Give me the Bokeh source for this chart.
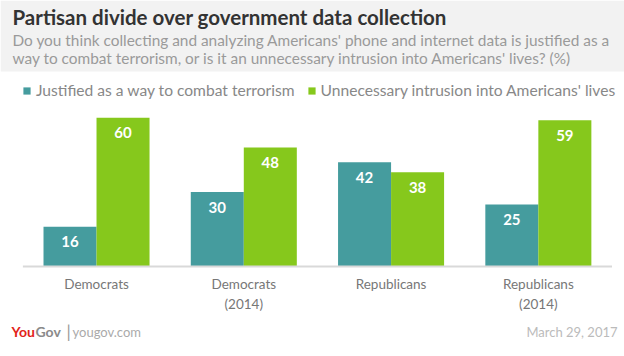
from bokeh.plotting import figure
from bokeh.models import ColumnDataSource, Range1d, Label, BoxAnnotation, Legend, LegendItem
from bokeh.transform import dodge
from bokeh.core.properties import value
from bokeh.embed import file_html
from bokeh.resources import INLINE

categories = ["Democrats", "Democrats (2014)", "Republicans", "Republicans (2014)"]
tick_labels = ["Democrats", "Democrats\n(2014)", "Republicans", "Republicans\n(2014)"]
justified = [16, 30, 42, 25]
unnecessary = [60, 48, 38, 59]
series_names = ["Justified as a way to combat terrorism", "Unnecessary intrusion into Americans' lives"]

TEAL = "#459c9e"
GREEN = "#86c81c"
FONT = "Lato"

W, H = 624, 356
n = len(categories)
src = ColumnDataSource(dict(
    x=list(range(n)), cat=categories, tick=tick_labels,
    j=justified, u=unnecessary,
    jl=[str(v) for v in justified], ul=[str(v) for v in unnecessary],
    zero=[0] * n,
))

p = figure(width=W, height=H, output_backend="svg", toolbar_location=None,
           x_range=Range1d(-0.652, 3.585), y_range=Range1d(-36.29, 107.26),
           x_axis_location=None, y_axis_location=None, min_border=0)
p.outline_line_color = None
p.xgrid.visible = False
p.ygrid.visible = False
p.background_fill_color = "white"
p.border_fill_color = "white"

# header band
p.add_layout(BoxAnnotation(left=0, right=W, bottom=H - 71, top=H,
                           left_units="screen", right_units="screen",
                           bottom_units="screen", top_units="screen",
                           fill_color="#f2f2f2", fill_alpha=1, line_color=None, level="underlay"))

bw = 0.36
r1 = p.vbar(x=dodge("x", -bw / 2, range=p.x_range), top="j", width=bw, source=src,
            fill_color=TEAL, line_color=None)
r2 = p.vbar(x=dodge("x", bw / 2, range=p.x_range), top="u", width=bw, source=src,
            fill_color=GREEN, line_color=None)

# baseline
p.segment(x0=-0.5, x1=n - 0.5, y0=0, y1=0, line_color="#d9d9d9", line_width=2)

# value labels
for col, lab, off in (("j", "jl", -bw / 2), ("u", "ul", bw / 2)):
    p.text(x=dodge("x", off, range=p.x_range), y=col, text=lab, source=src,
           text_align="center", text_baseline="middle", y_offset=15,
           text_color="white", text_font=value(FONT), text_font_style="bold",
           text_font_size="15px")

# category labels
p.text(x="x", y="zero", text="tick", source=src, text_align="center",
       text_baseline="top", y_offset=9, text_color="#777777",
       text_font=value(FONT), text_font_size="13.5px", text_line_height=1.3)

legend = Legend(items=[LegendItem(label=series_names[0], renderers=[r1]),
                       LegendItem(label=series_names[1], renderers=[r2])],
                orientation="horizontal", location=(22, 257),
                glyph_width=9, glyph_height=9, label_standoff=5, spacing=12,
                label_height=16, padding=0, margin=0,
                border_line_color=None, background_fill_alpha=0,
                label_text_font=FONT, label_text_font_size="15.6px",
                label_text_color="#888888")
p.add_layout(legend)

def lab(x, y, text, **kw):
    d = dict(x=x, y=H - y, x_units="screen", y_units="screen", text=text,
             text_baseline="middle", text_font=FONT)
    d.update(kw)
    p.add_layout(Label(**d))

lab(12, 16, "Partisan divide over government data collection",
    text_font_size="20.5px", text_font_style="bold", text_color="#333333")
lab(12, 39, "Do you think collecting and analyzing Americans' phone and internet data is justified as a",
    text_font_size="15.4px", text_color="#9a9a9a")
lab(12, 57, "way to combat terrorism, or is it an unnecessary intrusion into Americans' lives? (%)",
    text_font_size="15.4px", text_color="#9a9a9a")

# footer
lab(11, 331, "You", text_font_size="14px", text_font_style="bold", text_color="#e2231a")
lab(35, 331, "Gov", text_font_size="14px", text_font_style="bold", text_color="#8a8a8a")
lab(66, 331, "|", text_font_size="17px", text_color="#999999")
lab(72, 331, "yougov.com", text_font_size="13px", text_color="#aaaaaa")
lab(617, 331, "March 29, 2017", text_font_size="13px", text_color="#bbbbbb", text_align="right")

open("out.html", "w").write(file_html(p, INLINE))
